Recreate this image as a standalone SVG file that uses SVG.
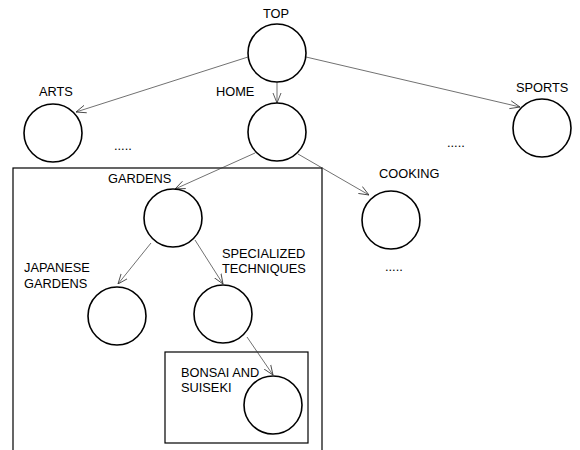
<svg xmlns="http://www.w3.org/2000/svg" width="580" height="450" viewBox="0 0 580 450">
<defs>
<style>
.n{fill:#fff;stroke:#000;stroke-width:1.6}
.t{font-family:"Liberation Sans",Arial,sans-serif;font-size:12.8px;fill:#000}
.c{stroke:#333;stroke-width:0.7;fill:none;marker-end:url(#a)}
.b{fill:none;stroke:#000;stroke-width:1.2}
</style>
<marker id="a" viewBox="0 0 10 10" refX="10" refY="5" markerWidth="10" markerHeight="10" markerUnits="userSpaceOnUse" orient="auto">
<path d="M0,1 L10,5 L0,9" fill="none" stroke="#333" stroke-width="0.8"/>
</marker>
</defs>
<rect width="580" height="450" fill="#fff"/>
<rect id="box-gardens" class="b" x="13" y="168" width="309" height="300"/>
<rect id="box-bonsai" class="b" x="165" y="352" width="143" height="91"/>
<g id="connectors">
<line class="c" x1="248" y1="57" x2="76" y2="112"/>
<line class="c" x1="306" y1="57" x2="520" y2="107"/>
<line class="c" x1="277" y1="82" x2="277" y2="103"/>
<line class="c" x1="255" y1="153" x2="175" y2="189"/>
<line class="c" x1="298" y1="154" x2="369" y2="195"/>
<line class="c" x1="151" y1="243" x2="118" y2="284"/>
<line class="c" x1="195" y1="240" x2="223" y2="284"/>
<line class="c" x1="247" y1="337" x2="273" y2="375"/>
</g>
<g id="top"><circle class="n" cx="277" cy="53" r="29"/><text class="t" x="263" y="18">TOP</text></g>
<g id="arts"><circle class="n" cx="53" cy="133" r="29"/><text class="t" x="39" y="96">ARTS</text><text class="t" x="114" y="150">.....</text></g>
<g id="home"><circle class="n" cx="277" cy="132" r="29"/><text class="t" x="216" y="96">HOME</text></g>
<g id="sports"><circle class="n" cx="542" cy="128" r="29"/><text class="t" x="516" y="92">SPORTS</text><text class="t" x="447" y="147">.....</text></g>
<g id="gardens"><circle class="n" cx="173" cy="218" r="29"/><text class="t" x="108" y="183">GARDENS</text></g>
<g id="cooking"><circle class="n" cx="391" cy="220" r="29"/><text class="t" x="379" y="178">COOKING</text><text class="t" x="385" y="271">.....</text></g>
<g id="japanese"><circle class="n" cx="117" cy="316" r="29"/><text class="t" x="24" y="272">JAPANESE</text><text class="t" x="24" y="288">GARDENS</text></g>
<g id="specialized"><circle class="n" cx="223" cy="314" r="29"/><text class="t" x="222" y="258">SPECIALIZED</text><text class="t" x="222" y="273">TECHNIQUES</text></g>
<g id="bonsai"><circle class="n" cx="273" cy="405" r="29"/><text class="t" x="181" y="377">BONSAI AND</text><text class="t" x="181" y="392">SUISEKI</text></g>
</svg>
